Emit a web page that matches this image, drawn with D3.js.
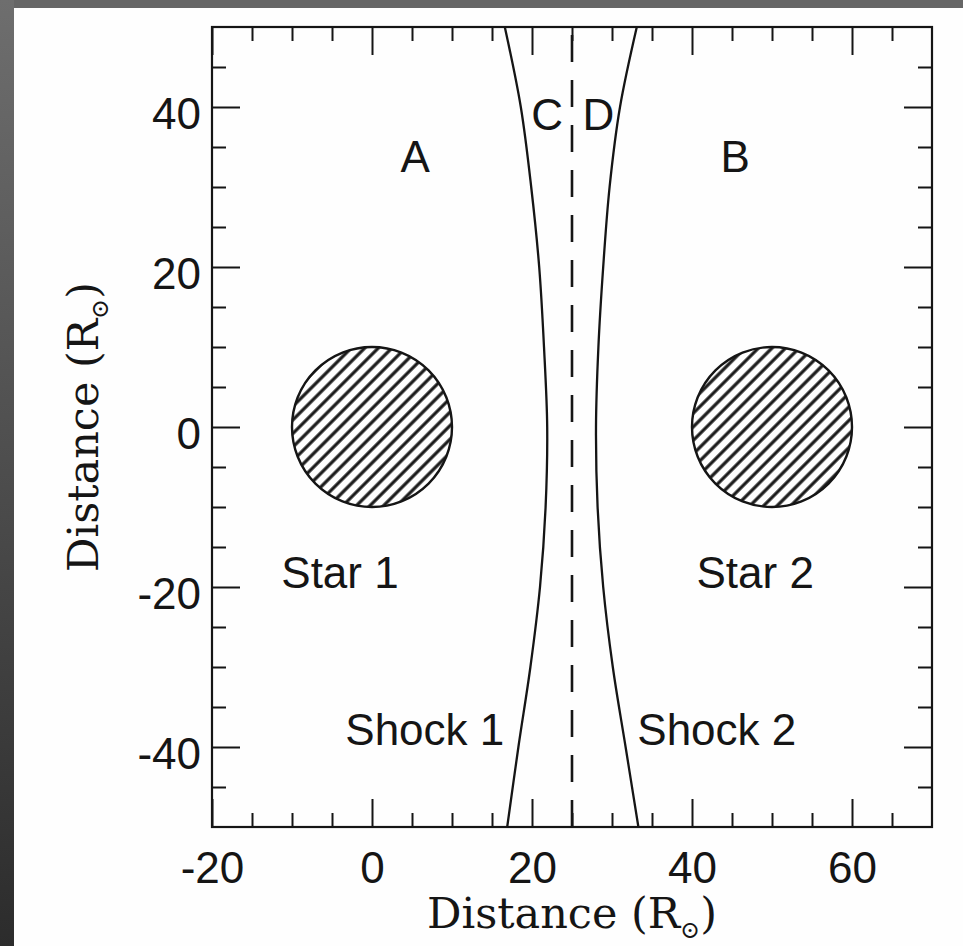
<!DOCTYPE html>
<html>
<head>
<meta charset="utf-8">
<script src="https://cdn.jsdelivr.net/npm/d3@7"></script>
<style>
html,body{margin:0;padding:0;background:#5a5a5a;}
svg{display:block;}
</style>
</head>
<body>
<svg id="chart" width="963" height="946"></svg>
<script>
// ---- data ----
const xMajorTicks = [-20, 0, 20, 40, 60];
const xMinorTicks = [-15, -10, -5, 5, 10, 15, 25, 30, 35, 45, 50, 55, 65];
const yMajorTicks = [-40, -20, 0, 20, 40];
const yMinorTicks = [-45, -35, -30, -25, -15, -10, -5, 5, 10, 15, 25, 30, 35, 45];
const starNames = ["Star 1", "Star 2"];
const starX = [0, 50];
const starY = [0, 0];
const starRadius = [10, 10];
const shockY = [50, 40, 30, 20, 10, 0, -10, -20, -30, -40, -50];
const shock1X = [16.6, 18.6, 19.9, 20.9, 21.5, 21.9, 21.7, 21.0, 19.8, 18.3, 16.9];
const shock2X = [33.1, 31.0, 29.7, 28.9, 28.3, 28.0, 28.2, 28.9, 30.1, 31.7, 33.3];
const contactX = 25;
const regionLabels = ["A", "B", "C", "D", "Star 1", "Star 2", "Shock 1", "Shock 2"];
const regionLabelX = [5.4, 45.4, 21.9, 28.3, -4, 47.9, 6.6, 43.1];
const regionLabelY = [31.9, 31.9, 37.1, 37.1, -20.1, -20.1, -39.8, -39.8];
const xTitle = "Distance (R";
const sunSymbol = "\u2299";

// ---- layout ----
const W = 963, H = 946;
const svg = d3.select("#chart");
const x = d3.scaleLinear().domain([-20, 70]).range([212, 932]);
const y = d3.scaleLinear().domain([-50, 50]).range([827, 27]);

// background frame
const defs = svg.append("defs");
const lg = defs.append("linearGradient").attr("id", "leftGrad")
  .attr("x1", 0).attr("y1", 0).attr("x2", 0).attr("y2", 1);
lg.append("stop").attr("offset", "0%").attr("stop-color", "#6e6e6e");
lg.append("stop").attr("offset", "100%").attr("stop-color", "#2c2c2c");
svg.append("rect").attr("x", 0).attr("y", 0).attr("width", W).attr("height", H).attr("fill", "#666");
svg.append("rect").attr("x", 0).attr("y", 0).attr("width", 14).attr("height", H).attr("fill", "url(#leftGrad)");
svg.append("rect").attr("x", 14).attr("y", 8).attr("width", W - 14).attr("height", H - 8).attr("fill", "#fefefe");

// hatch pattern
const pat = defs.append("pattern").attr("id", "hatch")
  .attr("patternUnits", "userSpaceOnUse").attr("width", 10).attr("height", 9.6)
  .attr("patternTransform", "rotate(-45)");
pat.append("rect").attr("width", 10).attr("height", 9.6).attr("fill", "#fff");
pat.append("line").attr("x1", 0).attr("x2", 10).attr("y1", 4.8).attr("y2", 4.8)
  .attr("stroke", "#1a1a1a").attr("stroke-width", 3.2);

const ink = "#151515";
const labelFont = "Liberation Sans, Arial, Helvetica, sans-serif";
const fmt = d => String(d);

function styleAxis(g) {
  g.select(".domain").remove();
  g.selectAll(".tick line").attr("stroke", ink).attr("stroke-width", 2);
  g.selectAll(".tick text").attr("fill", ink);
}
// bottom
svg.append("g").attr("transform", `translate(0,${y(-50)})`)
  .call(d3.axisBottom(x).tickValues(xMajorTicks).tickSize(-28).tickPadding(25).tickFormat(fmt))
  .call(styleAxis)
  .call(g => g.selectAll(".tick text").attr("font-family", labelFont).attr("font-size", 44).attr("dy", "0.71em"));
svg.append("g").attr("transform", `translate(0,${y(-50)})`)
  .call(d3.axisBottom(x).tickValues(xMinorTicks).tickSize(-14).tickFormat(""))
  .call(styleAxis);
// top
svg.append("g").attr("transform", `translate(0,${y(50)})`)
  .call(d3.axisTop(x).tickValues(xMajorTicks).tickSize(-28).tickFormat(""))
  .call(styleAxis);
svg.append("g").attr("transform", `translate(0,${y(50)})`)
  .call(d3.axisTop(x).tickValues(xMinorTicks).tickSize(-14).tickFormat(""))
  .call(styleAxis);
// left
svg.append("g").attr("transform", `translate(${x(-20)},0)`)
  .call(d3.axisLeft(y).tickValues(yMajorTicks).tickSize(-28).tickPadding(11).tickFormat(fmt))
  .call(styleAxis)
  .call(g => g.selectAll(".tick text").attr("font-family", labelFont).attr("font-size", 44).attr("dy", "0.48em"));
svg.append("g").attr("transform", `translate(${x(-20)},0)`)
  .call(d3.axisLeft(y).tickValues(yMinorTicks).tickSize(-14).tickFormat(""))
  .call(styleAxis);
// right
svg.append("g").attr("transform", `translate(${x(70)},0)`)
  .call(d3.axisRight(y).tickValues(yMajorTicks).tickSize(-28).tickFormat(""))
  .call(styleAxis);
svg.append("g").attr("transform", `translate(${x(70)},0)`)
  .call(d3.axisRight(y).tickValues(yMinorTicks).tickSize(-14).tickFormat(""))
  .call(styleAxis);

// frame
svg.append("rect").attr("x", x(-20)).attr("y", y(50))
  .attr("width", x(70) - x(-20)).attr("height", y(-50) - y(50))
  .attr("fill", "none").attr("stroke", ink).attr("stroke-width", 2.2);

// stars
svg.selectAll("circle.star").data(starX).join("circle").attr("class", "star")
  .attr("cx", (d) => x(d)).attr("cy", (d, i) => y(starY[i]))
  .attr("r", (d, i) => x(starRadius[i]) - x(0))
  .attr("fill", "url(#hatch)").attr("stroke", ink).attr("stroke-width", 2.4);

// shocks
const line = d3.line().curve(d3.curveCatmullRom);
[shock1X, shock2X].forEach(arr => {
  svg.append("path")
    .attr("d", line(arr.map((v, i) => [x(v), y(shockY[i])])))
    .attr("fill", "none").attr("stroke", ink).attr("stroke-width", 2.3);
});
// contact discontinuity (dashed), drawn from bottom up
svg.append("line").attr("x1", x(contactX)).attr("x2", x(contactX))
  .attr("y1", y(-50)).attr("y2", y(50))
  .attr("stroke", ink).attr("stroke-width", 2.6).attr("stroke-dasharray", "27,18");

// region labels
svg.selectAll("text.lab").data(regionLabels).join("text").attr("class", "lab")
  .attr("x", (d, i) => x(regionLabelX[i])).attr("y", (d, i) => y(regionLabelY[i]))
  .attr("text-anchor", "middle")
  .attr("font-family", labelFont)
  .attr("font-size", 44).attr("fill", ink)
  .text(d => d);

// axis titles
function title(sel) {
  sel.attr("font-family", "DejaVu Serif, serif").attr("font-size", 43).attr("fill", ink)
    .attr("text-anchor", "middle");
  sel.append("tspan").text(xTitle);
  sel.append("tspan").attr("font-size", 24).attr("dy", 10).text(sunSymbol);
  sel.append("tspan").attr("dy", -10).text(")");
}
svg.append("text").attr("x", (x(-20) + x(70)) / 2).attr("y", 928).call(title);
svg.append("text").attr("transform", `translate(98,${y(0)}) rotate(-90)`).call(title);
</script>
</body>
</html>
